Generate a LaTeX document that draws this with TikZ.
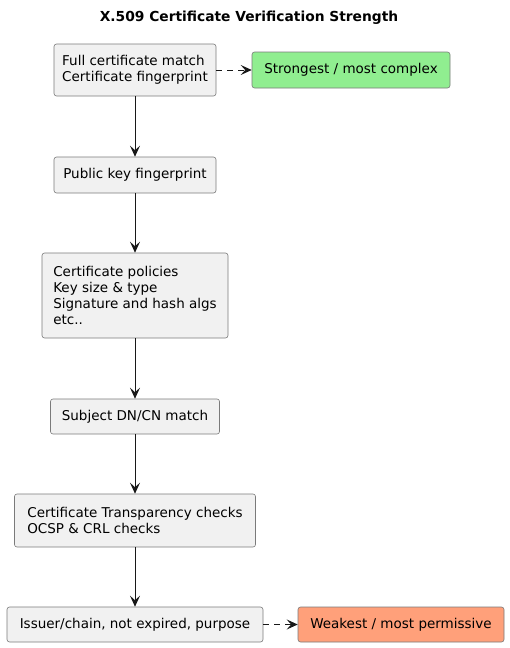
\documentclass[tikz,border=0pt]{standalone}
\usepackage{fontspec}
\setmainfont{DejaVu Sans}
\usetikzlibrary{arrows.meta}
\definecolor{boxfill}{HTML}{F1F1F1}
\definecolor{boxline}{HTML}{7A7A7A}
\definecolor{linecol}{HTML}{181818}
\definecolor{strongfill}{HTML}{90EE90}
\definecolor{weakfill}{HTML}{FFA07A}

\begin{document}
\begin{tikzpicture}[x=1pt,y=-1pt,
        step box/.style={draw=boxline, fill=boxfill, rounded corners=2.5pt, line width=0.6pt,
            align=left, inner sep=0pt, font=\fontsize{13.5}{16}\selectfont, text=black},
        note box/.style={step box},
        flow/.style={draw=linecol, line width=0.9pt, -{Stealth[length=11pt,width=10pt,inset=4.5pt]}},
        hint/.style={flow, dash pattern=on 6pt off 5pt}]
            \useasboundingbox (0,0) rectangle (509,648);
            \node [font=\bfseries\fontsize{13.8}{16}\selectfont] (title) at (249,18) {X.509 Certificate Verification Strength};

            \node [step box, minimum width=162pt, minimum height=52pt] (full) at (135,70)
                {Full certificate match\\Certificate fingerprint};
            \node [note box, fill=strongfill, minimum width=198pt, minimum height=36pt] (strong) at (351,70)
                {Strongest / most complex};
            \node [step box, minimum width=162pt, minimum height=36pt] (pubkey) at (135,175)
                {Public key fingerprint};
            \node [step box, minimum width=186pt, minimum height=85pt] (policy) at (135,295.5)
                {Certificate policies\\Key size \& type\\Signature and hash algs\\etc..};
            \node [step box, minimum width=169pt, minimum height=35pt] (subject) at (135,416.5)
                {Subject DN/CN match};
            \node [step box, minimum width=241pt, minimum height=53pt] (ct) at (135,520.5)
                {Certificate Transparency checks\\OCSP \& CRL checks};
            \node [step box, minimum width=256pt, minimum height=35pt] (issuer) at (135,624.5)
                {Issuer/chain, not expired, purpose};
            \node [note box, fill=weakfill, minimum width=206pt, minimum height=35pt] (weak) at (401,624.5)
                {Weakest / most permissive};

            \draw [flow] (full) -- (pubkey);
            \draw [flow] (pubkey) -- (policy);
            \draw [flow] (policy) -- (subject);
            \draw [flow] (subject) -- (ct);
            \draw [flow] (ct) -- (issuer);
            \draw [hint] (full) -- (strong);
            \draw [hint] (issuer) -- (weak);
        \end{tikzpicture}
\end{document}
